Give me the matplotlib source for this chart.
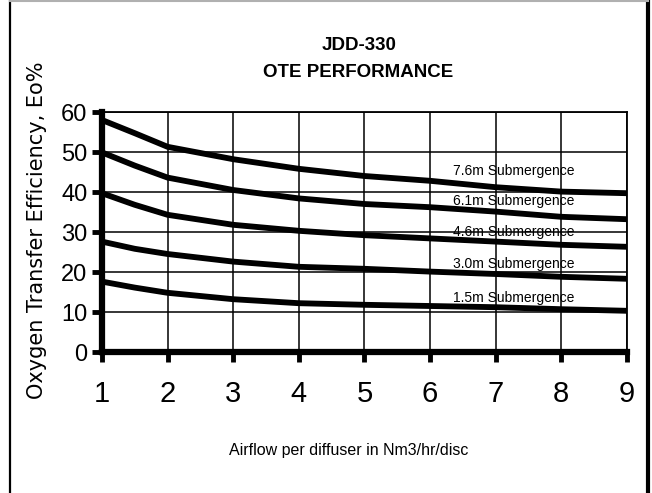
import matplotlib.pyplot as plt
from matplotlib.lines import Line2D

# airflow (Nm3/hr/disc) and OTE (%)
airflow = [1, 1.5, 2, 3, 4, 5, 6, 7, 8, 9]
ote_76 = [58.0, 54.7, 51.3, 48.2, 45.8, 44.0, 42.8, 41.2, 40.1, 39.7]
ote_61 = [49.9, 46.6, 43.6, 40.5, 38.4, 37.0, 36.2, 35.1, 33.8, 33.2]
ote_46 = [39.7, 36.8, 34.3, 31.8, 30.3, 29.2, 28.4, 27.6, 26.8, 26.3]
ote_30 = [27.6, 25.8, 24.5, 22.6, 21.3, 20.8, 20.1, 19.5, 18.8, 18.3]
ote_15 = [17.6, 16.1, 14.8, 13.2, 12.2, 11.8, 11.5, 11.2, 10.7, 10.3]
series = [ote_76, ote_61, ote_46, ote_30, ote_15]
labels = ['7.6m Submergence', '6.1m Submergence', '4.6m Submergence',
          '3.0m Submergence', '1.5m Submergence']
label_y = [44.3, 36.8, 29.0, 21.0, 12.5]   # baseline of each curve label
xticks = [1, 2, 3, 4, 5, 6, 7, 8, 9]
yticks = [0, 10, 20, 30, 40, 50, 60]

font = 'Liberation Sans'

fig = plt.figure(figsize=(6.52, 4.93), dpi=100)
ax = fig.add_axes([0.1564, 0.286, 0.8052, 0.4868])

for ys in series:
    ax.plot(airflow, ys, color='black', lw=4.2, solid_capstyle='butt',
            solid_joinstyle='round', zorder=3)
for lab, yy in zip(labels, label_y):
    ax.text(6.35, yy, lab, fontsize=10, family=font, va='baseline', ha='left', zorder=4)

ax.set_xlim(1, 9)
ax.set_ylim(0, 60)
ax.set_xticks(xticks)
ax.set_yticks(yticks)
ax.grid(True, color='black', lw=1.1)
ax.set_axisbelow(True)
for s in ['top', 'right']:
    ax.spines[s].set_linewidth(1.3)
for s in ['left', 'bottom']:
    ax.spines[s].set_linewidth(4.5)
ax.tick_params(length=7, width=3.5)
ax.tick_params(axis='x', pad=13, labelsize=21)
ax.tick_params(axis='y', pad=3.6, labelsize=17)
for t in ax.get_xticklabels() + ax.get_yticklabels():
    t.set_family(font)

fig.text(0.55, 0.8986, 'JDD-330', ha='center', va='baseline', fontsize=13.5,
         family=font, weight='bold')
fig.text(0.55, 0.8438, 'OTE PERFORMANCE', ha='center', va='baseline', fontsize=13.5,
         family=font, weight='bold')
fig.text(0.057, 0.533, 'Oxygen Transfer Efficiency, Eo%', rotation=90,
         ha='center', va='center', fontsize=15, family='DejaVu Sans')
fig.text(0.5345, 0.077, 'Airflow per diffuser in Nm3/hr/disc', ha='center',
         va='baseline', fontsize=11.5, family=font)

# outer frame
fig.add_artist(Line2D([10/652, 10/652], [0, 1], color='black', lw=1.6))
fig.add_artist(Line2D([648/652, 648/652], [0, 1], color='black', lw=3))
fig.add_artist(Line2D([10/652, 648/652], [0.998, 0.998], color='#b0b0b0', lw=1.5))

fig.savefig('out.png', dpi=100)
